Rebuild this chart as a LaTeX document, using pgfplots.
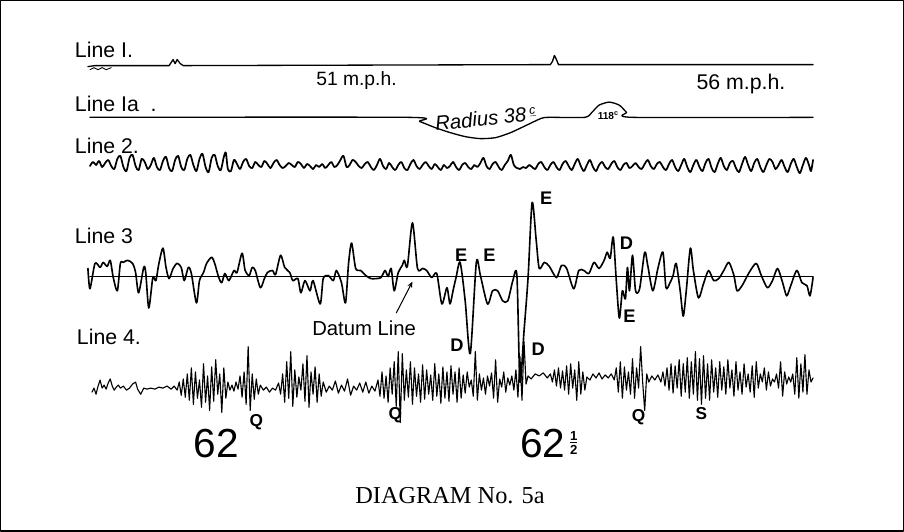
\documentclass[border=0pt]{standalone}
\usepackage{pgfplots}
\pgfplotsset{compat=1.18}
\usepackage{fontspec}
\setmainfont{Liberation Sans}
\newfontfamily\seriffont{Liberation Serif}
\usetikzlibrary{arrows.meta}
\newcommand{\fs}[1]{\fontsize{#1bp}{#1bp}\selectfont}
\begin{document}
\begin{tikzpicture}
\begin{axis}[scale only axis, width=904bp, height=537bp,
  xmin=0, xmax=904, ymin=0, ymax=537, y dir=reverse,
  axis lines=none, clip=false,
  every axis plot/.append style={black, no markers, line join=round, line cap=round}]
% frame
\addplot[line width=1.4bp] coordinates {(7,4) (897,4) (897,527) (7,527) (7,4)};
% Line 1
\addplot[line width=1.3bp] coordinates {(93,69) (100,68) (173,68) (175,65) (177,62) (179,66) (181,62) (184,66) (187,68) (549,67) (551,64) (553,58) (555,62) (557,67) (808,67)};
\addplot[line width=0.9bp] coordinates {(95,72) (99,70) (103,72) (107,70) (111,72) (116,70)};
% Line 1a
\addplot[line width=1.3bp, smooth, tension=0.4] coordinates {(95,119) (408,119) (420,123) (435,129) (450,134) (465,138) (480,140) (495,139) (510,134) (525,127) (540,120) (548,119) (583,119) (590,114) (597,107) (607,104) (617,107) (624,114) (630,119) (808,119)};
% Line 2
\addplot[line width=1.7bp, smooth, tension=0.5] coordinates {
(95,167) (98,163) (101,166) (104,162) (107,168) (110,164) (113,161) (116,167) (119,170) (122,160) (125,157) (128,168) (131,172) (134,159) (137,156) (140,167) (143,171) (146,160) (149,163) (152,170) (155,166) (158,159) (161,168) (164,171) (167,162) (170,158) (173,169) (176,172) (179,161) (182,157) (185,168) (188,171) (191,160) (194,156) (197,166) (200,172) (203,160) (206,155) (209,168) (212,173) (215,159) (218,156) (221,167) (224,171) (227,158) (229,154) (231,170) (234,172) (237,161) (240,165) (243,170) (246,163) (249,160) (252,167) (255,169) (258,163) (261,166) (264,168) (267,162) (270,165) (273,169) (276,164) (279,161) (282,166) (285,169) (288,167) (291,164) (294,166) (297,168) (300,163) (303,165) (306,169) (309,165) (312,167) (315,170) (318,166) (321,168) (324,165) (327,169) (330,166) (333,163) (336,168) (339,166) (342,161) (345,157) (348,168) (351,166) (354,161) (357,163) (360,167) (363,169) (366,165) (369,163) (372,168) (375,171) (378,166) (381,160) (384,167) (387,170) (390,164) (393,168) (396,171) (399,166) (402,163) (405,169) (408,171) (411,165) (414,161) (417,167) (420,170) (423,166) (426,163) (429,167) (432,170) (435,165) (438,168) (441,171) (444,166) (447,169) (450,167) (453,163) (456,168) (459,171) (462,166) (465,164) (468,168) (471,170) (474,166) (477,168) (480,164) (483,159) (486,167) (489,170) (492,165) (495,163) (498,168) (501,171) (504,166) (507,162) (510,156) (513,166) (516,169) (519,170) (522,168) (525,169) (528,166) (531,168) (534,170) (537,165) (540,163) (543,168) (546,171) (549,166) (552,163) (555,168) (558,171) (561,165) (564,162) (567,167) (570,171) (573,165) (576,160) (579,167) (582,172) (585,166) (588,161) (591,168) (594,172) (597,166) (600,163) (603,168) (606,170) (609,165) (612,162) (615,168) (618,171) (621,166) (624,164) (627,169) (630,167) (633,164) (636,168) (639,170) (642,165) (645,161) (648,167) (651,170) (654,165) (657,163) (660,168) (663,171) (666,165) (669,161) (672,168) (675,172) (678,166) (681,160) (684,168) (687,173) (690,166) (693,161) (696,168) (699,172) (702,164) (705,160) (708,169) (711,173) (714,165) (717,159) (720,167) (723,171) (726,164) (729,162) (732,169) (735,173) (738,165) (741,158) (744,166) (747,172) (750,164) (753,160) (756,168) (759,173) (762,166) (765,160) (768,163) (771,170) (774,166) (777,161) (780,168) (783,173) (786,165) (789,160) (792,168) (795,174) (798,166) (801,159) (804,166) (806,172) (808,161)};
% Datum line
\addplot[line width=1.6bp] coordinates {(95,276) (808,276)};
% Line 3
\addplot[line width=1.6bp, smooth, tension=0.45] coordinates {
(93,268) (95,288) (100,263) (105,267) (108,262) (112,266) (115,260) (118,277) (122,290) (125,263) (128,262) (132,260) (137,263) (140,272) (143,292) (148,267) (150,272) (153,307) (157,277) (160,280) (163,263) (167,248) (170,267) (173,278) (177,268) (181,263) (185,267) (188,280) (192,267) (195,273) (200,302) (203,280) (207,272) (210,263) (215,257) (218,263) (222,277) (225,282) (228,273) (232,280) (237,270) (240,272) (245,253) (248,270) (252,275) (255,267) (258,270) (263,287) (267,278) (270,272) (275,270) (278,274) (283,255) (287,267) (292,272) (295,280) (300,278) (303,292) (307,280) (312,290) (315,280) (322,303) (325,278) (330,275) (335,280) (338,270) (343,282) (347,302) (350,263) (353,243) (357,268) (362,270) (367,275) (372,278) (377,278) (382,277) (386,270) (389,276) (392,268) (395,290) (399,272) (403,265) (405,260) (408,266) (413,223) (418,268) (423,268) (427,270) (432,277) (437,273) (442,303) (447,287) (450,303) (453,290) (456,277) (460,262) (465,300) (470,352) (476,262) (480,275) (487,303) (492,290) (497,290) (502,300) (507,300) (512,280) (516,275) (519,380) (523,330) (527,277) (531,203) (535,240) (538,268) (543,262) (548,266) (555,277) (560,265) (565,268) (572,288) (577,270) (582,270) (587,273) (592,262) (597,268) (602,260) (605,252) (608,258) (611,237) (614,280) (617,317) (620,290) (623,298) (625,267) (627,290) (630,255) (633,290) (637,288) (642,252) (645,265) (650,290) (655,268) (660,252) (663,287) (667,282) (670,275) (673,263) (677,290) (680,315) (683,290) (687,248) (690,270) (695,297) (700,283) (705,270) (710,280) (715,278) (720,270) (725,262) (730,275) (733,290) (738,285) (745,272) (752,263) (757,275) (763,287) (768,280) (773,268) (778,282) (782,295) (786,285) (792,270) (797,282) (802,285) (805,295) (808,277)};
% Line 4
\addplot[line width=1.1bp] coordinates {
(97,390) (99,386) (101,392) (103,384) (105,378) (107,386) (109,383) (111,387) (113,381) (115,377) (117,384) (119,388) (121,385) (123,383) (125,386) (128,384) (131,388) (134,386) (137,382) (140,380) (142,387) (145,392) (148,386) (151,387) (155,386) (159,387) (163,385) (167,386) (171,384) (175,387) (178,384) (181,388) (183,380) (185,393) (187,377) (189,395) (191,372) (193,398) (195,366) (197,402) (199,370) (201,396) (203,378) (205,405) (207,362) (209,400) (211,374) (213,408) (215,365) (217,399) (219,358) (221,392) (223,372) (225,410) (227,366) (229,396) (231,380) (233,388) (235,383) (237,389) (239,380) (241,387) (243,374) (245,395) (247,370) (249,402) (251,345) (253,408) (255,372) (257,397) (259,377) (261,392) (263,383) (266,388) (269,385) (272,390) (275,386) (278,388) (281,381) (283,392) (285,372) (287,400) (289,360) (291,396) (293,350) (295,404) (297,368) (299,395) (301,375) (303,388) (305,362) (307,399) (309,354) (311,405) (313,370) (315,392) (317,365) (319,400) (321,372) (323,394) (325,380) (328,390) (331,384) (334,388) (337,379) (340,391) (343,383) (346,389) (349,377) (352,393) (355,384) (358,388) (361,381) (364,390) (367,380) (370,391) (373,384) (376,389) (379,378) (381,394) (383,370) (385,396) (387,374) (389,400) (391,366) (393,392) (395,360) (397,404) (399,350) (401,420) (403,352) (405,398) (407,368) (409,395) (411,360) (413,402) (415,366) (417,394) (419,372) (421,400) (423,363) (425,397) (427,368) (429,392) (431,373) (433,398) (435,362) (437,394) (439,372) (441,401) (443,365) (445,396) (447,370) (449,399) (451,364) (453,392) (455,370) (457,400) (459,366) (461,396) (463,373) (465,391) (467,370) (469,385) (471,378) (473,394) (475,350) (477,398) (479,372) (481,388) (483,376) (485,392) (487,374) (489,384) (491,371) (493,396) (495,358) (497,400) (499,377) (501,385) (503,370) (505,390) (507,376) (509,383) (511,374) (513,388) (515,368) (517,395) (519,355) (521,398) (523,340) (525,382) (527,374) (530,377) (534,372) (538,374) (542,371) (546,376) (549,372) (551,380) (553,368) (555,384) (557,366) (559,386) (561,369) (563,388) (565,364) (567,392) (569,362) (571,386) (573,368) (575,398) (577,360) (579,392) (581,370) (583,388) (585,375) (588,378) (591,372) (594,376) (597,371) (600,377) (603,373) (606,376) (609,372) (612,378) (614,366) (616,390) (618,360) (620,396) (622,365) (624,388) (626,370) (628,392) (630,357) (632,396) (634,366) (636,386) (638,345) (640,380) (642,408) (644,372) (646,380) (649,374) (652,378) (655,373) (658,380) (660,370) (662,384) (664,366) (666,388) (668,362) (670,391) (672,364) (674,386) (676,358) (678,394) (680,362) (682,390) (684,356) (686,396) (688,360) (690,392) (692,350) (694,398) (696,357) (698,402) (700,354) (702,396) (704,362) (706,398) (708,358) (710,390) (712,366) (714,395) (716,360) (718,388) (720,365) (722,392) (724,358) (726,386) (728,368) (730,394) (732,360) (734,388) (736,370) (738,392) (740,362) (742,385) (744,372) (746,390) (748,364) (750,395) (752,360) (754,386) (756,372) (758,380) (760,366) (762,388) (764,370) (766,384) (768,377) (770,380) (772,372) (774,386) (776,360) (778,394) (780,370) (782,382) (784,375) (786,380) (788,372) (790,392) (792,356) (794,396) (796,362) (798,390) (800,353) (802,392) (804,368) (806,380) (808,376)};
% arrow for datum line
\draw[line width=1bp, -{Stealth[length=6bp,width=5bp]}] (axis cs:397,312) -- (axis cs:413,281);
% labels
\node[anchor=base west, inner sep=0pt] at (axis cs:80,60) {\fs{21}Line I.};
\node[anchor=base west, inner sep=0pt] at (axis cs:80,113) {\fs{21}Line Ia\ \ .};
\node[anchor=base west, inner sep=0pt] at (axis cs:80,155) {\fs{21}Line 2.};
\node[anchor=base west, inner sep=0pt] at (axis cs:80,243) {\fs{21}Line 3};
\node[anchor=base west, inner sep=0pt] at (axis cs:82,343) {\fs{21}Line 4.};
\node[anchor=base west, inner sep=0pt] at (axis cs:318,88) {\fs{19}51 m.p.h.};
\node[anchor=base west, inner sep=0pt] at (axis cs:693,92) {\fs{21}56 m.p.h.};
\node[inner sep=0pt, rotate=6] at (axis cs:485,120) {\fs{20}\itshape Radius 38\,\raisebox{0.6ex}{\fs{12}\underline{c}}};
\node[inner sep=0pt] at (axis cs:606,117) {\fs{10}\bfseries 118\textsuperscript{c}};
\node[anchor=base west, inner sep=0pt] at (axis cs:314,334) {\fs{20}Datum Line};
% E / D markers
\node[inner sep=0pt] at (axis cs:461,255) {\fs{18}\bfseries E};
\node[inner sep=0pt] at (axis cs:489,255) {\fs{18}\bfseries E};
\node[inner sep=0pt] at (axis cs:545,199) {\fs{18}\bfseries E};
\node[inner sep=0pt] at (axis cs:457,344) {\fs{18}\bfseries D};
\node[inner sep=0pt] at (axis cs:537,348) {\fs{18}\bfseries D};
\node[inner sep=0pt] at (axis cs:624,243) {\fs{18}\bfseries D};
\node[inner sep=0pt] at (axis cs:627,315) {\fs{18}\bfseries E};
% Q / S
\node[inner sep=0pt] at (axis cs:259,420) {\fs{17}\bfseries Q};
\node[inner sep=0pt] at (axis cs:396,413) {\fs{17}\bfseries Q};
\node[inner sep=0pt] at (axis cs:636,415) {\fs{17}\bfseries Q};
\node[inner sep=0pt] at (axis cs:698,411) {\fs{17}\bfseries S};
% speeds
\node[anchor=base west, inner sep=0pt] at (axis cs:197,454) {\fs{40}62};
\node[anchor=base west, inner sep=0pt] at (axis cs:519,454) {\fs{40}62};
\node[inner sep=0pt] at (axis cs:572,440) {\fs{13}\bfseries\shortstack{1\\[-1bp]\rule{7bp}{1.2bp}\\[-1bp]2}};
\node[inner sep=0pt] at (axis cs:450,492) {\seriffont\fs{24}DIAGRAM No. 5a};
\end{axis}
\end{tikzpicture}
\end{document}
